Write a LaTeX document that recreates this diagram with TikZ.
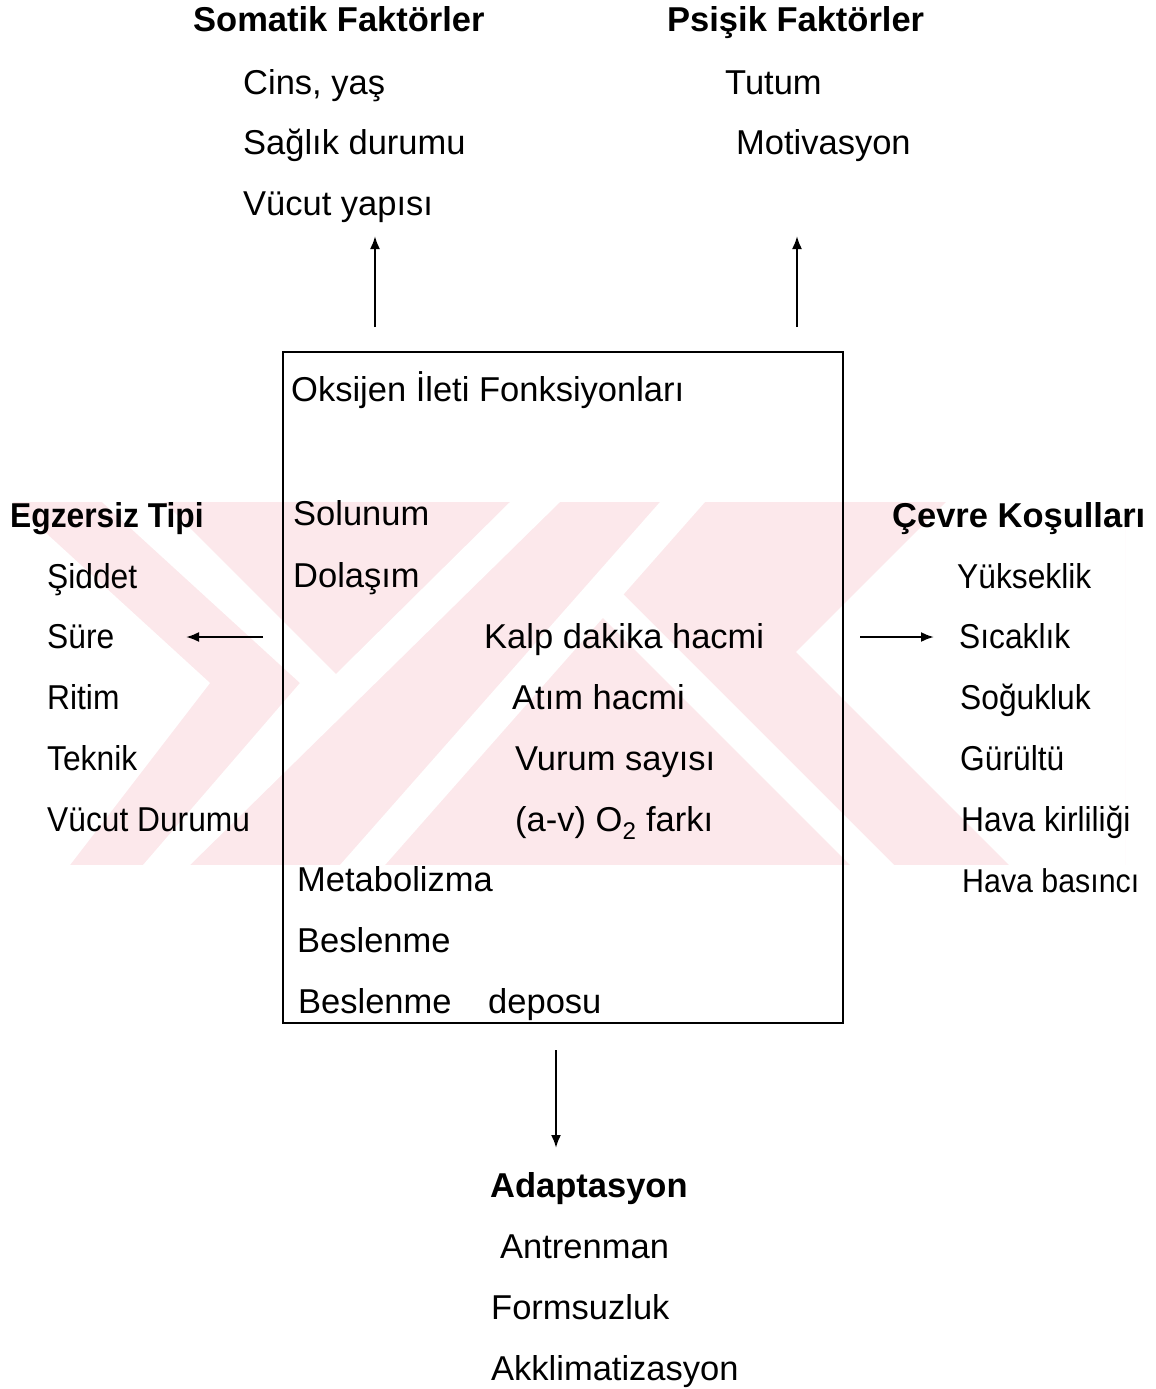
\documentclass[tikz,border=0pt]{standalone}
\usepackage{fontspec}
\setmainfont{Liberation Sans}
\newfontfamily\sidefont[FakeStretch=0.92]{Liberation Sans}
\usetikzlibrary{arrows.meta}
\definecolor{wmpink}{RGB}{252,232,235}
\tikzset{
  txt/.style={anchor=base west, inner sep=0pt, font=\fontsize{34.5}{40}\selectfont},
  hd/.style={txt, font=\fontsize{34.5}{40}\selectfont\bfseries},
  side/.style={txt, font=\sidefont\fontsize{34.5}{40}\selectfont},
  sidehd/.style={txt, font=\sidefont\fontsize{34.5}{40}\selectfont\bfseries},
  arr/.style={line width=2.2pt, -{Latex[length=13pt,width=10pt]}},
  boxst/.style={draw, line width=1.8pt, inner sep=0pt, minimum width=560pt, minimum height=671pt},
}
\begin{document}
\begin{tikzpicture}[x=1pt,y=-1pt]
\useasboundingbox (0,0) rectangle (1156,1389);
% watermark: pink band with white gaps
\begin{scope}
\clip (12,502) rectangle (1125,865);
\fill[wmpink] (0,502) rectangle (1156,865);
\fill[white] (0,502) -- (12,502) -- (210,683) -- (70,865) -- (0,865) -- cycle;
\fill[white] (102,502) -- (164,502) -- (336,674) -- (510,502) -- (560,502) -- (190,865) -- (143,865) -- (300,683) -- cycle;
\fill[white] (660,502) -- (705,502) -- (385,865) -- (340,865) -- cycle;
\fill[white] (579,594) -- (623,594) -- (894,865) -- (850,865) -- cycle;
\fill[white] (796,652) -- (946,502) -- (1156,502) -- (1156,865) -- (1009,865) -- cycle;
\end{scope}
% main box
\node[boxst, anchor=north west] (box) at (282,351) {};
% top left
\node[hd] (som) at (193,32) {Somatik Faktörler};
\node[txt] (cins) at (243,94) {Cins, yaş};
\node[txt] (sag) at (243,154) {Sağlık durumu};
\node[txt] (vuc) at (243,215) {Vücut yapısı};
% top right
\node[hd] (psi) at (667,32) {Psişik Faktörler};
\node[txt] (tut) at (725,94) {Tutum};
\node[txt] (mot) at (736,154) {Motivasyon};
% box content
\node[txt] (oks) at (291,401) {Oksijen İleti Fonksiyonları};
\node[txt] (sol) at (293,525) {Solunum};
\node[txt] (dol) at (293,587) {Dolaşım};
\node[txt] (kalp) at (484,648) {Kalp dakika hacmi};
\node[txt] (atim) at (512,709) {Atım hacmi};
\node[txt] (vur) at (515,770) {Vurum sayısı};
\node[txt] (av) at (515,831) {(a-v) O\textsubscript{2} farkı};
\node[txt] (met) at (297,891) {Metabolizma};
\node[txt] (bes) at (297,952) {Beslenme};
\node[txt] (bes2) at (298,1013) {Beslenme};
\node[txt] (dep) at (488,1013) {deposu};
% left column
\node[sidehd] (egz) at (10,527) {Egzersiz Tipi};
\node[side] (sid) at (47,588) {Şiddet};
\node[side] (sure) at (47,648) {Süre};
\node[side] (rit) at (47,709) {Ritim};
\node[side] (tek) at (47,770) {Teknik};
\node[side] (vdu) at (47,831) {Vücut Durumu};
% right column
\node[hd] (cev) at (892,527) {Çevre Koşulları};
\node[side] (yuk) at (957,588) {Yükseklik};
\node[side] (sic) at (959,648) {Sıcaklık};
\node[side] (sog) at (960,709) {Soğukluk};
\node[side] (gur) at (960,770) {Gürültü};
\node[side] (hk) at (961,831) {Hava kirliliği};
\node[side, font=\sidefont\fontsize{33}{40}\selectfont] (hb) at (962,892) {Hava basıncı};
% bottom
\node[hd] (ada) at (490,1197) {Adaptasyon};
\node[txt] (ant) at (500,1258) {Antrenman};
\node[txt] (for) at (491,1319) {Formsuzluk};
\node[txt] (akk) at (491,1380) {Akklimatizasyon};
% arrow end points
\coordinate (upLs) at (375,327);
\coordinate (upLe) at (375,236);
\coordinate (upRs) at (797,327);
\coordinate (upRe) at (797,236);
\coordinate (lfS) at (263,637);
\coordinate (lfE) at (186,637);
\coordinate (rtS) at (860,637);
\coordinate (rtE) at (934,637);
\coordinate (dnS) at (556,1050);
\coordinate (dnE) at (556,1148);
% connectors
\draw[arr] (upLs) -- (upLe);
\draw[arr] (upRs) -- (upRe);
\draw[arr] (lfS) -- (lfE);
\draw[arr] (rtS) -- (rtE);
\draw[arr] (dnS) -- (dnE);
\end{tikzpicture}
\end{document}
